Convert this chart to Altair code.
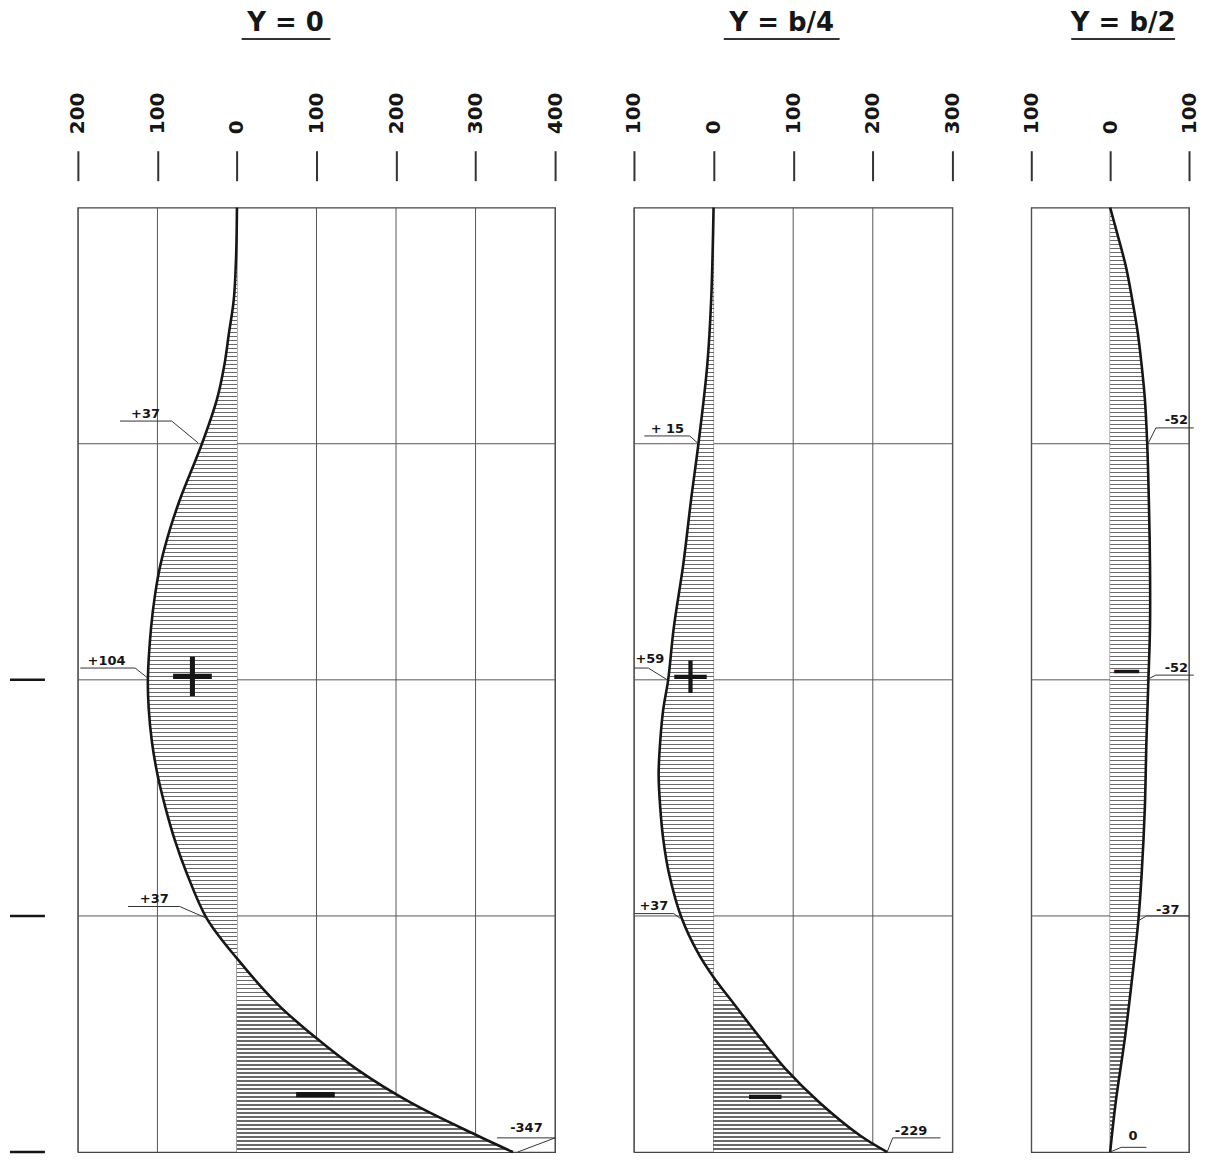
import altair as alt
import pandas as pd

# ---------------- data ----------------
TITLES = ["Y = 0", "Y = b/4", "Y = b/2"]

# depth along the member (0 = top, 4 = bottom) and moment value
d1 = [0, 0.2, 0.39, 0.53, 0.67, 0.81, 1.0, 1.23, 1.36, 1.51, 1.64, 1.78, 2.0, 2.12, 2.26,
      2.4, 2.54, 2.68, 2.82, 3.01, 3.18, 3.37, 3.51, 3.65, 3.79, 3.93, 4.0]
m1 = [0, 1, 4, 10, 16, 25, 44, 71, 84, 96, 103, 108, 112, 111, 107,
      100, 90, 78, 63, 38, 0, -50, -97, -151, -218, -302, -347]

d2 = [0, 0.39, 0.67, 1.0, 1.23, 1.51, 1.78, 2.0, 2.12, 2.26, 2.4, 2.54, 2.68, 2.82,
      3.01, 3.16, 3.26, 3.37, 3.51, 3.65, 3.79, 3.93, 4.0]
m2 = [0, 3, 8, 19, 28, 38, 50, 57, 63, 67, 69, 67, 63, 56,
      40, 19, 0, -25, -57, -91, -133, -184, -218]

d3 = [0, 0.11, 0.25, 0.39, 0.53, 0.67, 0.81, 1.0, 1.23, 1.51, 1.78, 2.0, 2.26, 2.54,
      2.82, 3.01, 3.23, 3.51, 3.79, 4.0]
m3 = [0, -9, -20, -28, -35, -40, -44, -47, -49, -50.5, -50.5, -48.5, -46, -44,
      -40, -36, -29, -19, -7, 0]

ticks1 = [200, 100, 0, -100, -200, -300, -400]
ticks2 = [100, 0, -100, -200, -300]
ticks3 = [100, 0, -100]
grid_depths = [1, 2, 3]
edge_depths = [2, 3, 4]

# value annotations (text, position) and their leader lines
lab1_text = ["+37", "+104", "+37", "-347"]
lab1_v = [115, 164, 104, -364]
lab1_d = [0.876, 1.92, 2.93, 3.90]
lead1_v = [[147, 82, 49], [197, 128, 113], [137, 72, 38], [-327, -400, -353]]
lead1_d = [[0.904, 0.904, 0.996], [1.95, 1.95, 1.99], [2.96, 2.96, 3.01], [3.94, 3.94, 4.0]]

lab2_text = ["+ 15", "+59", "+37", "-229"]
lab2_v = [58, 80, 75, -248]
lab2_d = [0.937, 1.91, 2.96, 3.91]
lead2_v = [[87, 30, 19], [100, 82, 58], [99, 50, 42], [-285, -225, -218]]
lead2_d = [[0.967, 0.967, 1.0], [1.95, 1.95, 2.0], [2.99, 2.99, 3.01], [3.94, 3.94, 4.0]]

lab3_text = ["-52", "-52", "-37", "0"]
lab3_v = [-84, -84, -73, -29]
lab3_d = [0.90, 1.95, 2.975, 3.93]
lead3_v = [[-106, -58, -48], [-106, -58, -46], [-100, -46, -36], [-46, -14, 0]]
lead3_d = [[0.933, 0.933, 1.0], [1.98, 1.98, 2.0], [3.0, 3.0, 3.02], [3.98, 3.98, 4.0]]

sign1_text = ["+", "\u2212"]
sign1_v = [56, -99]
sign1_d = [2.0, 3.77]
sign2_text = ["+", "\u2212"]
sign2_v = [29, -65]
sign2_d = [2.0, 3.78]
sign3_text = ["\u2212"]
sign3_v = [-21]
sign3_d = [1.98]

# ---------------- styling ----------------
FONT = "DejaVu Sans"
INK = "#161616"
GRID = "#555555"
PLOT_H = 946

N_STRIPES = 236
stops = []
for i in range(N_STRIPES):
    a = i / N_STRIPES
    b = min((i + 0.38) / N_STRIPES, 1.0)
    c = min((i + 1) / N_STRIPES, 1.0)
    stops += [alt.GradientStop(offset=a, color="#6a6a6a"),
              alt.GradientStop(offset=b, color="#6a6a6a"),
              alt.GradientStop(offset=b, color="#ffffff"),
              alt.GradientStop(offset=c, color="#ffffff")]
hatch = alt.LinearGradient(gradient="linear", stops=stops, x1=0, x2=0, y1=0, y2=1)


def panel(title, title_x, ul, d, m, ticks, width, lab_t, lab_v, lab_d,
          lead_v, lead_d, s_t, s_v, s_d, sign_size, edge=False):
    xs = alt.Scale(domain=[min(ticks), max(ticks)], reverse=True, nice=False, zero=False)
    ys = alt.Scale(domain=[0, 4], reverse=True, nice=False, zero=False)
    xaxis = alt.Axis(orient="top", values=ticks, title=None, grid=False, domain=False,
                     labelExpr="format(abs(datum.value), 'd')", labelAngle=270,
                     labelAlign="left", labelBaseline="middle", labelFont=FONT,
                     labelFontSize=20, labelFontWeight="bold", labelColor=INK,
                     labelPadding=17, labelFlush=False, labelOverlap=False,
                     tickSize=30, tickWidth=2, tickColor="#333333", offset=27)

    def X(f):
        return alt.X(f"{f}:Q", scale=xs, axis=xaxis)

    def Y(f):
        return alt.Y(f"{f}:Q", scale=ys, axis=None)

    curve = pd.DataFrame({"d": d, "v": m, "z": [0] * len(d)})
    vgrid = alt.Chart(pd.DataFrame({"v": ticks})).mark_rule(
        color=GRID, strokeWidth=1).encode(x=X("v"))
    hgrid = alt.Chart(pd.DataFrame({"d": grid_depths})).mark_rule(
        color=GRID, strokeWidth=1).encode(y=Y("d"))
    area = alt.Chart(curve).mark_area(
        orient="horizontal", interpolate="catmull-rom", color=hatch).encode(
        y=Y("d"), x=X("v"), x2="z:Q")
    line = alt.Chart(curve).mark_line(
        interpolate="catmull-rom", color=INK, strokeWidth=2.6).encode(
        x=X("v"), y=Y("d"), order="d:Q")

    rows = []
    for k, (vs, ds) in enumerate(zip(lead_v, lead_d)):
        for j, (vv, dd) in enumerate(zip(vs, ds)):
            rows.append({"id": k, "j": j, "v": vv, "d": dd})
    leaders = alt.Chart(pd.DataFrame(rows)).mark_line(
        color="#333333", strokeWidth=1).encode(
        x=X("v"), y=Y("d"), detail="id:N", order="j:Q")
    labels = alt.Chart(pd.DataFrame({"t": lab_t, "v": lab_v, "d": lab_d})).mark_text(
        font=FONT, fontSize=13, fontWeight="bold", color=INK).encode(
        x=X("v"), y=Y("d"), text="t:N")
    signs = alt.Chart(pd.DataFrame({"t": s_t, "v": s_v, "d": s_d})).mark_text(
        font=FONT, fontSize=sign_size, color=INK, baseline="middle", dy=-3).encode(
        x=X("v"), y=Y("d"), text="t:N")

    tdf = pd.DataFrame({"t": [title]})
    ttl = alt.Chart(tdf).mark_text(
        font=FONT, fontSize=26, fontWeight="bold", color=INK, baseline="middle").encode(
        text="t:N", x=alt.value(title_x), y=alt.value(-185))
    underline = alt.Chart(tdf).mark_rule(color="#333333", strokeWidth=2).encode(
        x=alt.value(ul[0]), x2=alt.value(ul[1]), y=alt.value(-169))

    layers = [vgrid, hgrid, area, line, leaders, labels, signs, ttl, underline]
    if edge:
        em = alt.Chart(pd.DataFrame({"d": edge_depths})).mark_rule(
            color=INK, strokeWidth=2.5).encode(
            y=Y("d"), x=alt.value(-68), x2=alt.value(-33))
        layers.append(em)
    return alt.layer(*layers).properties(width=width, height=PLOT_H)


p1 = panel(TITLES[0], 208, (164, 253), d1, m1, ticks1, 478,
           lab1_text, lab1_v, lab1_d, lead1_v, lead1_d,
           sign1_text, sign1_v, sign1_d, 62, edge=True)
p2 = panel(TITLES[1], 148, (90, 206), d2, m2, ticks2, 319,
           lab2_text, lab2_v, lab2_d, lead2_v, lead2_d,
           sign2_text, sign2_v, sign2_d, 52)
p3 = panel(TITLES[2], 92, (40, 144), d3, m3, ticks3, 158,
           lab3_text, lab3_v, lab3_d, lead3_v, lead3_d,
           sign3_text, sign3_v, sign3_d, 40)

chart = alt.hconcat(p1, p2, p3, spacing=79, bounds="flush").properties(
    padding={"left": 0, "top": 0, "right": 0, "bottom": 0},
    background="white",
).configure_view(stroke="#444444", strokeWidth=1.2)

chart.save("out.html", embed_options={"renderer": "svg", "actions": False})
